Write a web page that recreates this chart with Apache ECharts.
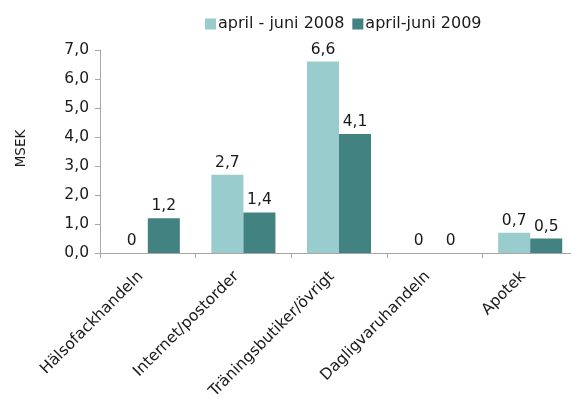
<!DOCTYPE html>
<html><head><meta charset="utf-8">
<script src="https://cdn.jsdelivr.net/npm/echarts@6/dist/echarts.min.js"></script>
<style>html,body{margin:0;padding:0;background:#fff}#c{width:571px;height:399px}</style>
</head><body><div id="c"></div>
<script>
var categories = ['Hälsofackhandeln', 'Internet/postorder', 'Träningsbutiker/övrigt', 'Dagligvaruhandeln', 'Apotek'];
var seriesNames = ['april - juni 2008', 'april-juni 2009'];
var values2008 = [0, 2.7, 6.6, 0, 0.7];
var values2009 = [1.2, 1.4, 4.1, 0, 0.5];
var yTicks = { min: 0, max: 7, interval: 1 };
var colors = ['#99cccc', '#428382'];

var fmt = function (v) { return v === 0 ? '0' : v.toFixed(1).replace('.', ','); };
var font = 'DejaVu Sans';
var fs = 15.5;
var chart = echarts.init(document.getElementById('c'));
var labelCfg = { show: true, position: 'top', distance: 4, color: '#1a1a1a', fontFamily: font, fontSize: fs,
  formatter: function (p) { return fmt(p.value); } };
chart.setOption({
  animation: false,
  color: colors,
  textStyle: { fontFamily: font },
  legend: {
    left: 200, top: 11, itemWidth: 11, itemHeight: 11, itemGap: 8,
    icon: 'rect',
    textStyle: { fontFamily: font, fontSize: 16, color: '#1a1a1a', padding: [0, 0, 0, -3] },
    data: seriesNames
  },
  grid: { left: 100, top: 50, height: 203, width: 478, containLabel: false, outerBoundsMode: 'none' },
  xAxis: {
    type: 'category', data: categories,
    axisLine: { lineStyle: { color: '#a6a6a6' } },
    axisTick: { show: true, length: 5, lineStyle: { color: '#a6a6a6' } },
    axisLabel: { rotate: 45, margin: 14, padding: [0, 10, 0, 0], color: '#1a1a1a', fontFamily: font, fontSize: fs, interval: 0 }
  },
  yAxis: {
    type: 'value', min: yTicks.min, max: yTicks.max, interval: yTicks.interval,
    name: 'MSEK', nameLocation: 'middle', nameGap: 72, nameRotate: 90,
    nameTextStyle: { fontFamily: font, fontSize: 13.5, color: '#1a1a1a', padding: [0, 0, 0, 6] },
    axisLine: { show: true, lineStyle: { color: '#a6a6a6' } },
    axisTick: { show: true, length: 5, lineStyle: { color: '#a6a6a6' } },
    splitLine: { show: false },
    axisLabel: { margin: 11, color: '#1a1a1a', fontFamily: font, fontSize: fs,
      formatter: function (v) { return v.toFixed(1).replace('.', ','); } }
  },
  series: [
    { name: seriesNames[0], type: 'bar', data: values2008, barGap: '0%', barCategoryGap: '33%', label: labelCfg },
    { name: seriesNames[1], type: 'bar', data: values2009, label: labelCfg }
  ]
});
</script></body></html>
